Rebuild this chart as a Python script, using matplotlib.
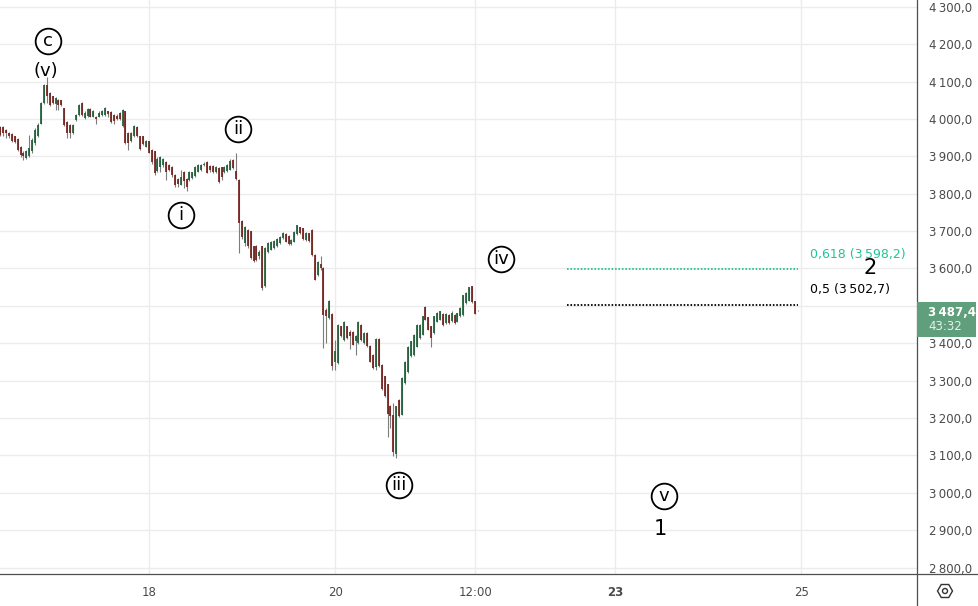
import numpy as np
import matplotlib.pyplot as plt
from matplotlib.patches import Rectangle, RegularPolygon, Circle
from matplotlib.lines import Line2D
from matplotlib.ticker import FuncFormatter

# 45-minute bars (price)
OPEN = [3978, 3978, 3971, 3962, 3959, 3953, 3947, 3924, 3910, 3895,
        3901, 3913, 3935, 3953, 3987, 4042, 4091, 4069, 4060, 4040,
        4051, 4050, 4028, 3993, 3984, 3962, 3997, 4011, 4042, 4002,
        4008, 4026, 4006, 4006, 4006, 4010, 4010, 4020, 4019, 4010,
        4008, 4017, 3980, 4020, 3962, 3940, 3953, 3979, 3953, 3953,
        3926, 3940, 3917, 3913, 3860, 3870, 3877, 3886, 3877, 3872,
        3850, 3840, 3824, 3858, 3840, 3836, 3843, 3848, 3859, 3863,
        3876, 3886, 3874, 3874, 3859, 3868, 3870, 3858, 3860, 3864,
        3890, 3860, 3837, 3726, 3668, 3703, 3699, 3659, 3660, 3632,
        3659, 3552, 3644, 3650, 3654, 3659, 3668, 3681, 3692, 3688,
        3665, 3672, 3692, 3712, 3707, 3676, 3694, 3703, 3636, 3583,
        3612, 3601, 3489, 3467, 3479, 3351, 3347, 3445, 3409, 3445,
        3431, 3431, 3405, 3400, 3449, 3400, 3427, 3392, 3369, 3336,
        3411, 3342, 3311, 3290, 3231, 3209, 3104, 3249, 3209, 3294,
        3323, 3365, 3369, 3391, 3414, 3423, 3498, 3469, 3445, 3427,
        3458, 3463, 3478, 3454, 3476, 3460, 3476, 3458, 3472, 3476,
        3507, 3514, 3552, 3513, 3487]
HIGH = [3982, 3980, 3973, 3965, 3962, 3955, 3949, 3927, 3914, 3916,
        3957, 3950, 3975, 3988, 4044, 4093, 4111, 4071, 4062, 4058,
        4053, 4051, 4030, 3995, 3986, 3987, 4013, 4040, 4044, 4020,
        4028, 4028, 4025, 4008, 4020, 4024, 4031, 4022, 4021, 4012,
        4012, 4019, 4026, 4022, 3964, 3964, 3984, 3982, 3955, 3955,
        3944, 3942, 3920, 3915, 3897, 3900, 3895, 3888, 3880, 3874,
        3853, 3842, 3862, 3860, 3842, 3860, 3859, 3875, 3880, 3879,
        3884, 3888, 3876, 3876, 3874, 3870, 3872, 3875, 3880, 3892,
        3892, 3908, 3840, 3729, 3714, 3706, 3700, 3661, 3662, 3648,
        3661, 3657, 3670, 3674, 3677, 3681, 3686, 3697, 3694, 3690,
        3680, 3700, 3717, 3712, 3709, 3697, 3696, 3705, 3638, 3620,
        3632, 3603, 3495, 3516, 3481, 3409, 3452, 3447, 3460, 3447,
        3434, 3433, 3423, 3460, 3451, 3430, 3429, 3394, 3371, 3413,
        3413, 3344, 3313, 3292, 3234, 3240, 3233, 3251, 3310, 3353,
        3393, 3407, 3425, 3451, 3451, 3474, 3500, 3471, 3447, 3474,
        3483, 3487, 3480, 3480, 3478, 3487, 3478, 3481, 3496, 3530,
        3536, 3551, 3554, 3514, 3489]
LOW = [3953, 3953, 3948, 3950, 3938, 3935, 3915, 3899, 3889, 3892,
       3899, 3910, 3931, 3951, 3985, 4040, 4042, 4035, 4040, 4024,
       4024, 4035, 3982, 3948, 3948, 3960, 3995, 4009, 4009, 4000,
       4006, 4004, 4004, 3986, 4004, 4008, 4007, 4006, 3989, 3985,
       3997, 3998, 3979, 3933, 3917, 3938, 3951, 3951, 3918, 3931,
       3924, 3908, 3880, 3850, 3858, 3858, 3872, 3837, 3860, 3845,
       3819, 3818, 3822, 3814, 3808, 3834, 3840, 3845, 3857, 3861,
       3873, 3854, 3859, 3855, 3856, 3828, 3836, 3856, 3858, 3862,
       3866, 3837, 3641, 3680, 3660, 3655, 3625, 3617, 3620, 3625,
       3543, 3550, 3642, 3648, 3652, 3656, 3665, 3679, 3670, 3663,
       3663, 3670, 3690, 3692, 3677, 3674, 3672, 3633, 3568, 3581,
       3596, 3387, 3400, 3465, 3327, 3329, 3345, 3416, 3407, 3412,
       3385, 3394, 3369, 3398, 3407, 3398, 3390, 3349, 3332, 3329,
       3336, 3275, 3256, 3148, 3173, 3098, 3093, 3202, 3207, 3291,
       3321, 3363, 3367, 3389, 3412, 3421, 3461, 3434, 3391, 3425,
       3456, 3461, 3447, 3452, 3452, 3458, 3452, 3456, 3470, 3474,
       3505, 3512, 3508, 3477, 3485]
CLOSE = [3958, 3962, 3962, 3953, 3940, 3937, 3917, 3904, 3900, 3913,
         3922, 3944, 3971, 3984, 4042, 4091, 4060, 4037, 4042, 4055,
         4037, 4038, 3984, 3962, 3962, 3984, 4011, 4037, 4011, 4017,
         4026, 4006, 4022, 4000, 4017, 4022, 4030, 4012, 3991, 3994,
         4000, 4000, 4024, 3935, 3935, 3962, 3980, 3953, 3920, 3933,
         3940, 3910, 3886, 3856, 3894, 3897, 3893, 3857, 3864, 3850,
         3822, 3825, 3845, 3833, 3818, 3858, 3857, 3872, 3876, 3876,
         3880, 3856, 3862, 3857, 3872, 3830, 3845, 3872, 3877, 3888,
         3868, 3838, 3721, 3685, 3712, 3659, 3627, 3619, 3623, 3645,
         3547, 3654, 3668, 3672, 3674, 3679, 3683, 3694, 3672, 3665,
         3677, 3697, 3716, 3694, 3679, 3694, 3674, 3635, 3570, 3618,
         3600, 3476, 3473, 3512, 3338, 3378, 3449, 3418, 3458, 3414,
         3420, 3396, 3420, 3458, 3409, 3427, 3392, 3351, 3334, 3411,
         3338, 3277, 3258, 3210, 3205, 3110, 3231, 3204, 3307, 3351,
         3391, 3405, 3423, 3449, 3449, 3472, 3463, 3436, 3414, 3472,
         3481, 3485, 3449, 3478, 3454, 3480, 3454, 3480, 3494, 3530,
         3534, 3549, 3510, 3479, 3487.4]

LAST_BAR_DAY = 21.528          # day of month of the live bar
BAR_DAYS = 0.75 / 24           # 45 minutes
LAST_PRICE = "3\u2009487,4"
COUNTDOWN = "43:32"

XTICKS = [18, 20, 21.5, 23, 25]
XTICK_LABELS = ["18", "20", "12:00", "23", "25"]

FIB_START, FIB_END = 22.485, 24.963
FIB_PRICES = [3598.2, 3502.7]
FIB_LABELS = ["0,618 (3\u2009598,2)", "0,5 (3\u2009502,7)"]
FIB_COLORS = ["#22c495", "#000000"]

CIRCLED = ["c", "ii", "i", "iv", "iii", "v"]
CIRCLED_X = [16.916, 18.955, 18.343, 21.777, 20.682, 23.526]
CIRCLED_Y = [4208, 3973, 3743, 3626, 3022, 2990]

PLAIN = ["(v)", "1", "2"]
PLAIN_X = [16.894, 23.49, 25.736]
PLAIN_Y = [4128, 2904, 3602]
PLAIN_SIZE = [13, 15, 15]

UP = "#1e5e38"
DOWN = "#74201b"
WICK = "#7d7d7d"
GRID = "#ececec"
AXIS = "#4f4f4f"
TEXT = "#4a4a4a"

W, H = 979, 606
fig = plt.figure(figsize=(W / 100, H / 100), dpi=100)
ax = fig.add_axes([0, 32.5 / H, 917 / W, 573.5 / H])

t = LAST_BAR_DAY - BAR_DAYS * np.arange(len(CLOSE))[::-1]
o, hi, lo, c = map(np.array, (OPEN, HIGH, LOW, CLOSE))
up = c >= o
ax.vlines(t, lo, hi, color=WICK, lw=0.8, zorder=2)
ax.vlines(t, np.minimum(o, c), np.maximum(o, c),
          colors=np.where(up, UP, DOWN), lw=1.25, zorder=3)

# fib retracement levels
for p, lab, col in zip(FIB_PRICES, FIB_LABELS, FIB_COLORS):
    ax.hlines(p, FIB_START, FIB_END, color=col, lw=1.3, ls=(0, (0.9, 1.0)), zorder=2)
    ax.text(25.09, p + 40, lab, color=col, fontsize=9, ha="left", va="center")

# elliott wave labels
ax.plot(CIRCLED_X, CIRCLED_Y, "o", ms=18.5, mfc="white", mec="black", mew=1.3,
        ls="none", zorder=5)
for lab, x, y in zip(CIRCLED, CIRCLED_X, CIRCLED_Y):
    ax.text(x, y, lab, fontsize=13, ha="center", va="center", zorder=6)
for lab, x, y, s in zip(PLAIN, PLAIN_X, PLAIN_Y, PLAIN_SIZE):
    ax.text(x, y, lab, fontsize=s, ha="center", va="center", zorder=6)

ax.set_xlim(16.401, 26.24)
ax.set_ylim(2784, 4318)
ax.set_yticks(np.arange(2800, 4301, 100))
ax.yaxis.set_major_formatter(FuncFormatter(
    lambda v, _: f"{v:,.1f}".replace(",", "\u2009").replace(".", ",")))
ax.yaxis.tick_right()
ax.tick_params(axis="y", length=0, pad=9, labelsize=8.5, labelcolor=TEXT)
ax.set_xticks(XTICKS)
ax.set_xticklabels(XTICK_LABELS)
ax.get_xticklabels()[3].set_fontweight("bold")
ax.tick_params(axis="x", length=0, pad=9, labelsize=8.5, labelcolor=TEXT)
ax.grid(True, color=GRID, lw=1, zorder=0)
ax.set_axisbelow(True)
for s in ax.spines.values():
    s.set_visible(False)

# chart frame lines (price scale / time scale separators)
fig.add_artist(Line2D([917 / W, 917 / W], [0, 1], transform=fig.transFigure,
                      color=AXIS, lw=0.9))
fig.add_artist(Line2D([0, 1], [32.5 / H, 32.5 / H], transform=fig.transFigure,
                      color=AXIS, lw=0.9))

# last price tag
tr = fig.dpi_scale_trans
fig.add_artist(Rectangle((9.17, (H - 337) / 100), 0.59, 0.35, transform=tr,
                         facecolor="#5f9f7c", edgecolor="none", zorder=5))
fig.text(9.28 / (W / 100), (H - 312) / H, LAST_PRICE, color="white", fontsize=8.5,
         fontweight="bold", va="center", ha="left", zorder=6)
fig.text(9.28 / (W / 100), (H - 326) / H, COUNTDOWN, color="white", alpha=0.85,
         fontsize=8.5, va="center", ha="left", zorder=6)

# settings icon
fig.add_artist(RegularPolygon((9.45, 0.15), 6, radius=0.075, orientation=np.pi / 6,
                              transform=tr, fill=False, edgecolor="#333333", lw=1))
fig.add_artist(Circle((9.45, 0.15), 0.025, transform=tr, fill=False,
                      edgecolor="#333333", lw=1))

fig.savefig("out.png", dpi=100)
